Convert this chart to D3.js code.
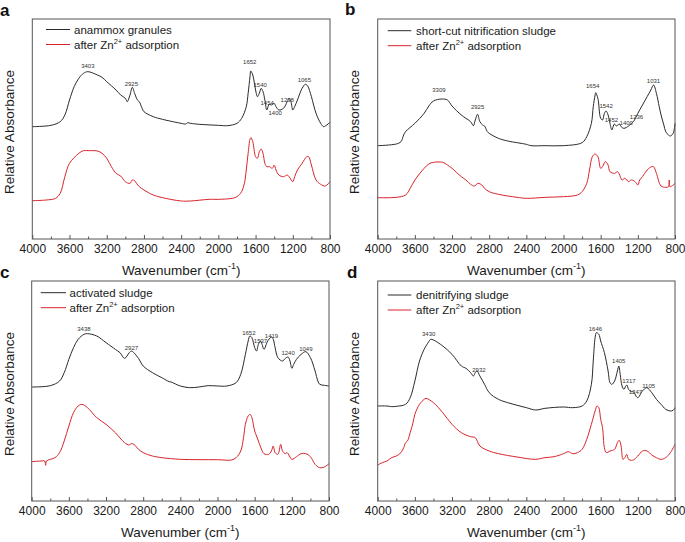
<!DOCTYPE html>
<html><head><meta charset="utf-8">
<script src="https://cdn.jsdelivr.net/npm/d3@7"></script>
<style>body{margin:0;background:#fff;}svg{display:block;font-family:Arial,"Liberation Sans",sans-serif;}</style>
</head><body><svg id="c" width="685" height="542"></svg>
<script>
// ---- Data (relative absorbance, arbitrary units; wavenumber in cm-1) ----
const aBlack = [[4000,337],[3800,341],[3700,352],[3650,372],[3600,417],[3550,457],[3500,482],[3450,497],[3403,502],[3300,492],[3250,485],[3200,472],[3100,447],[3050,432],[3000,422],[2980,412],[2950,432],[2925,455],[2900,437],[2870,417],[2850,412],[2820,392],[2800,382],[2700,367],[2600,359],[2400,347],[2350,345],[2330,349],[2300,347],[2200,344],[2000,341],[1900,340],[1800,347],[1750,362],[1700,397],[1680,437],[1660,487],[1652,504],[1630,492],[1600,447],[1580,427],[1560,437],[1540,452],[1520,442],[1500,417],[1480,387],[1460,402],[1454,405],[1430,402],[1400,407],[1380,397],[1350,387],[1300,392],[1260,412],[1240,422],[1220,412],[1200,387],[1180,397],[1150,417],[1100,452],[1065,464],[1040,459],[1000,427],[950,377],[900,347],[870,337],[850,339],[800,350]];
const aRed = [[4000,115],[3850,117],[3750,122],[3700,137],[3650,187],[3600,227],[3500,257],[3450,265],[3400,265],[3300,264],[3250,257],[3200,242],[3150,217],[3100,197],[3050,189],[3000,172],[2950,167],[2925,177],[2900,175],[2880,167],[2850,157],[2800,147],[2700,132],[2600,124],[2400,114],[2300,114],[2100,119],[2000,119],[1850,122],[1800,127],[1750,142],[1720,167],[1700,207],[1680,257],[1660,299],[1650,304],[1630,292],[1600,247],[1580,242],[1560,262],[1540,270],[1520,257],[1500,227],[1480,217],[1450,217],[1420,212],[1400,222],[1380,207],[1350,192],[1300,187],[1260,192],[1240,187],[1200,172],[1180,187],[1150,207],[1100,227],[1050,247],[1030,247],[1000,222],[950,177],[900,164],[850,159],[800,172]];
const bBlack = [[4000,280],[3800,285],[3750,292],[3720,312],[3700,322],[3600,347],[3500,377],[3450,399],[3400,414],[3309,420],[3250,417],[3200,399],[3100,372],[3050,362],[3000,352],[2970,340],[2950,357],[2925,374],[2900,352],[2870,342],[2850,339],[2820,322],[2800,317],[2700,302],[2600,294],[2400,284],[2350,280],[2200,280],[2000,280],[1800,289],[1750,307],[1700,347],[1680,397],[1660,432],[1654,439],[1630,422],[1600,362],[1580,357],[1560,377],[1542,384],[1520,372],[1500,347],[1480,327],[1460,342],[1452,345],[1430,339],[1400,345],[1380,337],[1350,332],[1300,339],[1250,352],[1236,357],[1200,377],[1150,402],[1100,427],[1060,447],[1031,462],[1000,437],[970,397],[950,372],[920,342],[900,322],[870,312],[850,309],[820,317],[800,347]];
const bRed = [[4000,124],[3800,125],[3700,132],[3650,152],[3600,177],[3500,212],[3450,225],[3400,230],[3300,230],[3250,222],[3200,212],[3100,187],[3050,177],[3000,164],[2960,159],[2920,167],[2880,162],[2850,152],[2800,142],[2700,134],[2500,125],[2400,122],[2200,125],[2000,127],[1850,132],[1800,142],[1750,167],[1720,207],[1690,247],[1660,255],[1630,247],[1600,212],[1580,217],[1550,232],[1520,222],[1500,202],[1450,197],[1420,202],[1400,195],[1370,177],[1340,182],[1300,172],[1270,177],[1230,172],[1200,162],[1180,177],[1150,187],[1100,207],[1050,217],[1030,217],[1000,197],[950,159],[900,155],[870,157],[862,177],[855,157],[820,162],[800,167]];
const cBlack = [[4000,342],[3800,346],[3700,360],[3650,385],[3600,425],[3550,460],[3500,485],[3438,500],[3400,502],[3300,495],[3200,475],[3100,455],[3050,445],[3000,428],[2950,445],[2927,450],[2900,445],[2870,435],[2850,428],[2800,405],[2700,385],[2600,370],[2520,358],[2500,357],[2400,345],[2300,340],[2200,342],[2100,346],[2000,345],[1900,345],[1800,355],[1750,380],[1700,440],[1670,480],[1652,495],[1630,490],[1600,460],[1580,450],[1560,470],[1537,480],[1520,470],[1500,455],[1460,480],[1430,490],[1419,492],[1400,485],[1380,460],[1350,430],[1300,420],[1270,428],[1240,432],[1220,420],[1200,398],[1180,410],[1150,425],[1100,440],[1049,448],[1000,430],[950,390],[920,360],[900,350],[850,347],[800,345]];
const cRed = [[4000,118],[3900,120],[3860,120],[3850,107],[3840,120],[3750,130],[3700,145],[3650,180],[3600,225],[3550,265],[3500,285],[3460,290],[3400,280],[3300,250],[3200,230],[3100,205],[3000,175],[2950,168],[2930,172],[2900,170],[2850,155],[2800,145],[2700,135],[2600,130],[2400,125],[2200,124],[2000,124],[1850,123],[1800,130],[1750,150],[1720,190],[1700,230],[1670,255],[1650,260],[1630,250],[1600,210],[1580,195],[1560,180],[1540,165],[1500,142],[1450,140],[1420,150],[1400,165],[1380,145],[1350,140],[1320,170],[1300,150],[1270,142],[1250,145],[1200,125],[1150,133],[1100,142],[1050,142],[1000,133],[950,110],[900,100],[850,102],[800,112]];
const dBlack = [[4000,285],[3900,285],[3850,283],[3800,284],[3700,290],[3650,310],[3600,360],[3550,420],[3500,455],[3450,478],[3430,485],[3400,483],[3300,465],[3200,440],[3100,405],[3050,398],[3000,385],[2970,375],[2950,385],[2932,390],[2900,375],[2850,350],[2800,325],[2700,305],[2600,295],[2400,280],[2300,273],[2200,278],[2000,282],[1900,280],[1800,285],[1750,300],[1700,350],[1680,420],[1660,490],[1646,505],[1620,500],[1600,480],[1560,445],[1520,390],[1500,355],[1480,350],[1450,360],[1420,390],[1405,405],[1390,380],[1370,345],[1350,335],[1330,345],[1317,348],[1300,335],[1270,328],[1247,328],[1220,315],[1200,310],[1150,330],[1105,340],[1050,325],[1000,305],[950,290],[900,275],[850,270],[820,272],[800,280]];
const dRed = [[4000,108],[3950,115],[3900,120],[3850,130],[3800,135],[3750,145],[3720,160],[3700,175],[3680,180],[3650,205],[3620,235],[3600,260],[3550,290],[3500,305],[3480,308],[3400,295],[3300,265],[3200,230],[3100,205],[3000,193],[2950,190],[2900,165],[2800,150],[2700,142],[2500,132],[2300,125],[2200,130],[2100,133],[2000,142],[1950,148],[1900,142],[1850,145],[1800,155],[1750,185],[1700,230],[1660,270],[1640,285],[1620,280],[1600,245],[1580,220],[1560,160],[1540,145],[1500,150],[1450,155],[1420,175],[1400,182],[1380,165],[1360,125],[1340,130],[1320,140],[1300,125],[1270,122],[1250,123],[1200,135],[1150,150],[1100,150],[1050,138],[1000,130],[950,125],[900,130],[850,145],[800,170]];

const panelLetters = ["a","b","c","d"];
const sampleNames = ["anammox granules","short-cut nitrification sludge","activated sludge","denitrifying sludge"];
const peaksA = [3403,2925,1652,1540,1454,1400,1238,1065];
const peaksB = [3309,2925,1654,1542,1452,1400,1236,1031];
const peaksC = [3438,2927,1652,1537,1419,1240,1049];
const peaksD = [3430,2932,1646,1405,1317,1247,1105];
const xTicks = [4000,3600,3200,2800,2400,2000,1600,1200,800];
const xMinorTicks = [3800,3400,3000,2600,2200,1800,1400,1000];

// ---- Layout ----
const frames = [
  {x0:32.3,x1:330,y0:19,y1:239, leg:{x0:46,x1:70,y:29.5,tx:74}, ylx:9, lx:0, ly:16},
  {x0:377.7,x1:675,y0:19,y1:239, leg:{x0:387.7,x1:411.3,y:30.7,tx:416}, ylx:354, lx:345, ly:15},
  {x0:31.7,x1:329,y0:281,y1:501, leg:{x0:40.7,x1:66,y:292.7,tx:69.5}, ylx:9, lx:0, ly:278},
  {x0:377.7,x1:675,y0:281,y1:501, leg:{x0:387.7,x1:411.3,y:295,tx:416}, ylx:354, lx:347, ly:278}
];
const series = [[aBlack,aRed],[bBlack,bRed],[cBlack,cRed],[dBlack,dRed]];
const peaks = [peaksA,peaksB,peaksC,peaksD];
// label offsets [dx, dy] relative to the curve point
const labelOffsets = [
  [[0,-6],[-1,-3],[-1,-9],[-1,-3],[-2,-1],[1,10],[-2,1],[-1,-4]],
  [[-3,-9],[0,-7],[-3,-7],[0,-5],[-3,-4],[7,-1],[2,-3],[0,-4]],
  [[0,-5],[0,-3],[-1,-3],[0,0],[0,-1],[0,-4],[0,-3]],
  [[-2,-5],[2,-1],[-1,-4],[0,-5],[2,-4],[2,0],[2,-2]]
];
const BLACK = "#2b2b2b", RED = "#d9242c", FRAME = "#555";

const svg = d3.select("#c");

frames.forEach((f,i)=>{
  const x = d3.scaleLinear().domain([4000,800]).range([f.x0,f.x1]);
  const y = d3.scaleLinear().domain([0,660]).range([f.y1,f.y0]);
  const g = svg.append("g");
  const line = d3.line().x(d=>x(d[0])).y(d=>y(d[1])).curve(d3.curveCatmullRom.alpha(0.5));
  const interp = (data,wn)=>{
    for(let k=0;k<data.length-1;k++){
      const a=data[k],b=data[k+1];
      if(wn<=a[0]&&wn>=b[0]){const t=(a[0]-wn)/(a[0]-b[0]);return a[1]+t*(b[1]-a[1]);}
    }
    return data[0][1];
  };
  g.append("path").datum(series[i][1]).attr("d",line).attr("fill","none").attr("stroke",RED).attr("stroke-width",1);
  g.append("path").datum(series[i][0]).attr("d",line).attr("fill","none").attr("stroke",BLACK).attr("stroke-width",1);
  g.append("rect").attr("x",f.x0).attr("y",f.y0).attr("width",f.x1-f.x0).attr("height",f.y1-f.y0)
    .attr("fill","none").attr("stroke",FRAME).attr("stroke-width",1);
  const ax = d3.axisBottom(x).tickValues(xTicks).tickSizeInner(-4).tickSizeOuter(0).tickPadding(6).tickFormat(d3.format("d"));
  const axg = g.append("g").attr("transform",`translate(0,${f.y1})`).call(ax);
  axg.select(".domain").remove();
  axg.selectAll(".tick line").attr("stroke",FRAME);
  axg.selectAll(".tick text").attr("font-size","12px").attr("fill","#1a1a1a").attr("y",14.3).attr("dy",0)
    .attr("font-family","Arial, 'Liberation Sans', sans-serif");
  const axm = d3.axisBottom(x).tickValues(xMinorTicks).tickSizeInner(-2.5).tickSizeOuter(0).tickFormat("");
  const amg = g.append("g").attr("transform",`translate(0,${f.y1})`).call(axm);
  amg.select(".domain").remove();
  amg.selectAll(".tick line").attr("stroke",FRAME);
  const xl = g.append("text").attr("x",(f.x0+f.x1)/2).attr("y",f.y1+36).attr("text-anchor","middle")
    .attr("font-size","13.5px").attr("fill","#1a1a1a");
  xl.append("tspan").text("Wavenumber (cm");
  xl.append("tspan").text("-1").attr("font-size","9px").attr("dy",-6);
  xl.append("tspan").text(")").attr("dy",6);
  g.append("text").attr("transform",`translate(${f.ylx},${(f.y0+f.y1)/2+3}) rotate(-90)`)
    .attr("text-anchor","middle").attr("dominant-baseline","central").attr("font-size","13.5px").attr("fill","#1a1a1a")
    .text("Relative Absorbance");
  g.append("text").attr("x",f.lx).attr("y",f.ly).attr("font-size","17px").attr("font-weight","bold").attr("fill","#111")
    .text(panelLetters[i]);
  const L = f.leg;
  g.append("line").attr("x1",L.x0).attr("x2",L.x1).attr("y1",L.y).attr("y2",L.y).attr("stroke",BLACK).attr("stroke-width",1);
  g.append("text").attr("x",L.tx).attr("y",L.y).attr("dominant-baseline","central").attr("font-size","11.5px").attr("fill","#1a1a1a").text(sampleNames[i]);
  g.append("line").attr("x1",L.x0).attr("x2",L.x1).attr("y1",L.y+15).attr("y2",L.y+15).attr("stroke",RED).attr("stroke-width",1);
  const t2 = g.append("text").attr("x",L.tx).attr("y",L.y+15+4.2).attr("font-size","11.5px").attr("fill","#1a1a1a");
  t2.append("tspan").text("after Zn");
  t2.append("tspan").text("2+").attr("font-size","7.5px").attr("dy",-5);
  t2.append("tspan").text(" adsorption").attr("dy",5);
  peaks[i].forEach((p,k)=>{
    const off = labelOffsets[i][k];
    g.append("text").attr("x",x(p)+off[0]).attr("y",y(interp(series[i][0],p))+off[1])
      .attr("text-anchor","middle").attr("dominant-baseline","central").attr("font-size","6px").attr("fill","#333")
      .text(p);
  });
});
</script></body></html>
